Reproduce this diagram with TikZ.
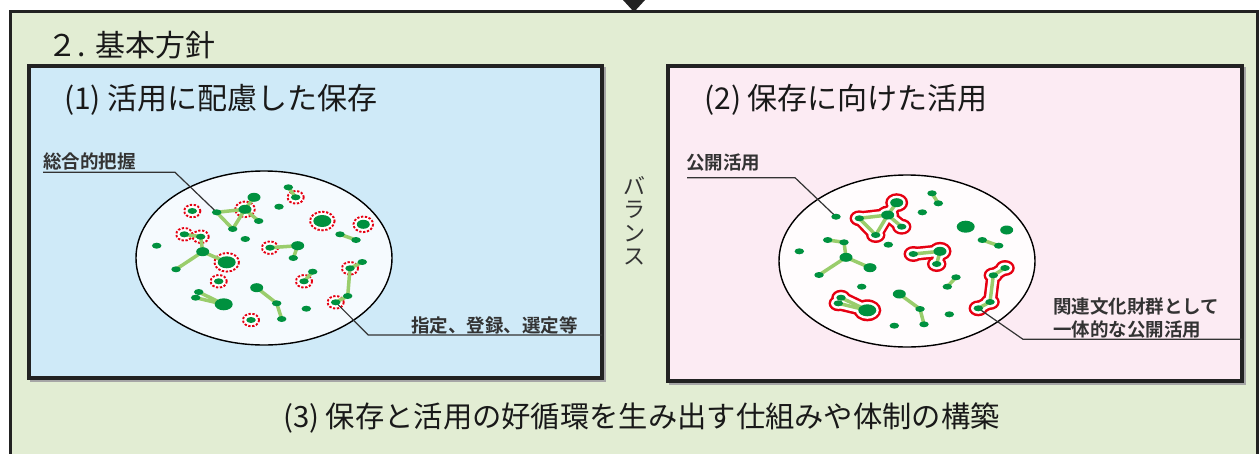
\documentclass[tikz,border=0pt]{standalone}
\usepackage{fontspec}
\newfontfamily\jp{Noto Sans CJK JP}[BoldFont={Noto Sans CJK JP Bold}]
\usetikzlibrary{shapes.geometric}
\definecolor{outerg}{HTML}{E2EDD3}
\definecolor{boxblue}{HTML}{CFEAF8}
\definecolor{boxpink}{HTML}{FCEBF3}
\definecolor{ellblue}{HTML}{F5FAFE}
\definecolor{ellpink}{HTML}{FFFCFD}
\definecolor{dgreen}{HTML}{00913F}
\definecolor{lgreen}{HTML}{9ACD6C}
\definecolor{ringred}{HTML}{E60012}
\definecolor{framec}{HTML}{222222}
\definecolor{labc}{HTML}{333333}
\pgfdeclarelayer{bg}\pgfdeclarelayer{mid}\pgfsetlayers{bg,mid,main}
\begin{document}
\begin{tikzpicture}[x=1pt,y=-1pt,
  sd/.style={ellipse, fill=dgreen, inner sep=0, minimum width=9.5, minimum height=6},
  md/.style={ellipse, fill=dgreen, inner sep=0, minimum width=13, minimum height=9},
  bd/.style={ellipse, fill=dgreen, inner sep=0, minimum width=18, minimum height=12},
  edge/.style={draw=lgreen, line width=3.5},
  ringst/.style={draw=ringred, fill=white, line width=1.9, dash pattern=on 2.3 off 1.6},
  oR/.style={draw=ringred, line width=14, line cap=round, line join=round},
  oW/.style={draw=white, line width=9, line cap=round, line join=round},
  lbl/.style={draw=labc, line width=1.2},
  title/.style={font=\jp\fontsize{30}{36}\selectfont, anchor=west, inner sep=0, text=black!90},
  lab/.style={font=\jp\bfseries\fontsize{18.5}{22}\selectfont, text=labc, anchor=west, inner sep=0},
  frm/.style={draw=framec, line width=3}
]
\useasboundingbox (0,0) rectangle (1260,453);
\begin{pgfonlayer}{bg}
\fill[white] (0,0) rectangle (1260,453);
\draw[frm, fill=outerg] (10,11) rectangle (1257,475);
\fill[framec] (623,0) -- (645,0) -- (634,12) -- cycle;
\draw[draw=gray!70, line width=3] (31,68) rectangle (604,380);
\draw[frm, fill=boxblue, line width=3.5] (29,66) rectangle (602,378);
\draw[draw=gray!70, line width=3] (670,68) rectangle (1244,383);
\draw[frm, fill=boxpink, line width=3.5] (668,66) rectangle (1242,381);
\node[ellipse, draw=black, line width=1.4, fill=ellblue, minimum width=256, minimum height=174, inner sep=0] (E1) at (264,258) {};
\node[ellipse, draw=black, line width=1.4, fill=ellpink, minimum width=256, minimum height=172, inner sep=0] (E2) at (907,261) {};
\end{pgfonlayer}

% titles
\node[title] (t0) at (47,45) {２.\hspace{10pt}基本方針};
\node[title] (t1) at (64,100) {(1) 活用に配慮した保存};
\node[title] (t2) at (704,100) {(2) 保存に向けた活用};
\node[title, font=\jp\fontsize{29.3}{36}\selectfont] (t3) at (283,418) {(3) 保存と活用の好循環を生み出す仕組みや体制の構築};
\node[align=center, inner sep=0, text=labc, font=\jp\fontsize{22}{23.5}\selectfont] (bal) at (634,221) {バ\\ラ\\ン\\ス};

% labels
\node[lab] (l1) at (43,161) {総合的把握};
\node[lab] (l2) at (411,325) {指定、登録、選定等};
\node[lab] (l3) at (686,163) {公開活用};
\node[lab, align=left] (l4) at (1053,318) {関連文化財群として\\一体的な公開活用};

% blue dots
\node[sd] (A) at (216.7,212.3) {};
\node[md] (B) at (245,209.3) {};
\node[md] (C) at (254,197.3) {};
\node[sd] (D) at (232.7,229) {};
\node[sd] (E) at (258.7,221) {};
\node[sd] (F) at (288.3,187.3) {};
\node[sd] (G) at (295.7,197.3) {};
\node[sd] (H) at (192.3,211) {};
\node[sd] (I) at (279,206.7) {};
\node[bd] (J) at (322.3,221) {};
\node[md] (K) at (363.3,224.3) {};
\node[sd] (L) at (340,234.3) {};
\node[sd] (M) at (356,240) {};
\node[sd] (N) at (184.3,234.3) {};
\node[sd] (O) at (200.7,236.7) {};
\node[md] (P) at (202.7,251.7) {};
\node[sd] (Q) at (176,269.3) {};
\node[bd] (R) at (226.7,262.3) {};
\node[sd] (S) at (156.7,245.7) {};
\node[sd] (T) at (245.3,239) {};
\node[sd] (U) at (270,247.7) {};
\node[md] (V) at (297.7,245.7) {};
\node[sd] (W) at (293.3,258) {};
\node[sd] (X) at (218.7,281.3) {};
\node[sd] (Y) at (312.7,271.7) {};
\node[sd] (Z) at (304,281.3) {};
\node[sd] (AA) at (350,268.3) {};
\node[sd] (AB) at (362.3,262) {};
\node[sd] (AC) at (347.7,296) {};
\node[sd] (AD) at (335.7,302.3) {};
\node[md] (AE) at (256.7,287.7) {};
\node[sd] (AF) at (276.7,303.3) {};
\node[sd] (AG) at (281.7,319) {};
\node[sd] (AH) at (198.7,292) {};
\node[sd] (AI) at (195.7,297.7) {};
\node[bd] (AJ) at (223.7,304.3) {};
\node[sd] (AK) at (306.3,308.7) {};
\node[sd] (AL) at (251,320) {};

% pink dots
\node[sd] (ka) at (836,216.7) {};
\node[sd] (kb) at (859.3,218.3) {};
\node[md] (kc) at (887.7,215) {};
\node[md] (kd) at (896.7,202.7) {};
\node[sd] (ke) at (901.7,226.7) {};
\node[sd] (kf) at (875.7,235) {};
\node[sd] (kg) at (932,193.3) {};
\node[sd] (kh) at (938.3,203.3) {};
\node[sd] (ki) at (922.3,212.3) {};
\node[bd] (kj) at (965.7,226.7) {};
\node[md] (kk) at (1006.7,230) {};
\node[sd] (kl) at (982.3,240) {};
\node[sd] (km) at (998.7,245.7) {};
\node[sd] (kn) at (827.7,240) {};
\node[sd] (ko) at (844,242.3) {};
\node[md] (kp) at (846,257.3) {};
\node[sd] (kq) at (819,275) {};
\node[md] (kr) at (870,267.7) {};
\node[sd] (ks) at (799.3,251.3) {};
\node[sd] (kt) at (888.3,244.7) {};
\node[sd] (ku) at (913.3,254) {};
\node[md] (kv) at (940,251.3) {};
\node[sd] (kw) at (936.7,264) {};
\node[sd] (kx) at (956,277.3) {};
\node[sd] (ky) at (947.3,286.7) {};
\node[sd] (kz) at (1005,268) {};
\node[sd] (kaa) at (993.3,275.3) {};
\node[sd] (kab) at (990,302) {};
\node[sd] (kac) at (978.3,308.3) {};
\node[sd] (kad) at (861.7,286.7) {};
\node[md] (kae) at (899.3,294) {};
\node[sd] (kaf) at (920,309) {};
\node[sd] (kag) at (924,324.3) {};
\node[sd] (kah) at (841,297.7) {};
\node[sd] (kai) at (838.3,303.3) {};
\node[bd] (kaj) at (867.3,310.3) {};
\node[sd] (kak) at (949.3,314.3) {};
\node[sd] (kal) at (894.3,325.7) {};

\coordinate (s1) at (43,172.3);
\coordinate (s2) at (175,172.3);
\coordinate (d1) at (368.3,335);
\coordinate (d2) at (602,335);
\coordinate (p1) at (687,177.7);
\coordinate (p2) at (795,177.7);
\coordinate (r1) at (1023,339.3);
\coordinate (r2) at (1242,339.3);

\begin{pgfonlayer}{mid}
% red outlines (pink panel)
\foreach \n/\a/\b in {kb/4.75/3,kc/6.5/4.5,kd/6.5/4.5,ke/4.75/3,kf/4.75/3,
  ku/4.75/3,kv/6.5/4.5,kw/4.75/3,
  kz/4.75/3,kaa/4.75/3,kab/4.75/3,kac/4.75/3,
  kah/4.75/3,kai/4.75/3,kaj/9/6}
  \fill[ringred] (\n.center) ellipse ({\a+5} and {\b+5});
\draw[oR, fill=ringred] (kb.center) -- (kc.center) -- (kf.center) -- cycle;
\draw[oR] (kc.center) -- (kd.center) (kc.center) -- (ke.center);
\draw[oR] (ku.center) -- (kv.center) -- (kw.center);
\draw[oR] (kz.center) -- (kaa.center) -- (kab.center) -- (kac.center);
\draw[oR, fill=ringred] (kah.center) -- (kaj.center) -- (kai.center) -- cycle;
\foreach \n/\a/\b in {kb/4.75/3,kc/6.5/4.5,kd/6.5/4.5,ke/4.75/3,kf/4.75/3,
  ku/4.75/3,kv/6.5/4.5,kw/4.75/3,
  kz/4.75/3,kaa/4.75/3,kab/4.75/3,kac/4.75/3,
  kah/4.75/3,kai/4.75/3,kaj/9/6}
  \fill[white] (\n.center) ellipse ({\a+2.5} and {\b+2.5});
\draw[oW, fill=white] (kb.center) -- (kc.center) -- (kf.center) -- cycle;
\draw[oW] (kc.center) -- (kd.center) (kc.center) -- (ke.center);
\draw[oW] (ku.center) -- (kv.center) -- (kw.center);
\draw[oW] (kz.center) -- (kaa.center) -- (kab.center) -- (kac.center);
\draw[oW, fill=white] (kah.center) -- (kaj.center) -- (kai.center) -- cycle;

% dashed rings (blue panel)
\foreach \n/\a/\b in {B/6.5/4.5,G/4.75/3,H/4.75/3,J/9/6,K/6.5/4.5,N/4.75/3,O/4.75/3,
  R/9/6,U/4.75/3,X/4.75/3,Z/4.75/3,AA/4.75/3,AD/4.75/3,AL/4.75/3}
  \draw[ringst] (\n.center) ellipse ({\a+3.3} and {\b+3.3});

% label leader lines
\draw[lbl] (s1) -- (s2) -- (A.center);
\draw[lbl] (AD.center) -- (d1) -- (d2);
\draw[lbl] (p1) -- (p2) -- (ka.center);
\draw[lbl] (kac.center) -- (r1) -- (r2);

% green links, blue panel
\draw[edge] (A.center) -- (B.center);
\draw[edge] (A.center) -- (D.center);
\draw[edge] (D.center) -- (B.center);
\draw[edge] (B.center) -- (C.center);
\draw[edge] (B.center) -- (E.center);
\draw[edge] (F.center) -- (G.center);
\draw[edge] (L.center) -- (M.center);
\draw[edge] (N.center) -- (O.center);
\draw[edge] (O.center) -- (P.center);
\draw[edge] (P.center) -- (Q.center);
\draw[edge] (P.center) -- (R.center);
\draw[edge] (U.center) -- (V.center);
\draw[edge] (V.center) -- (W.center);
\draw[edge] (Y.center) -- (Z.center);
\draw[edge] (AA.center) -- (AB.center);
\draw[edge] (AA.center) -- (AC.center);
\draw[edge] (AC.center) -- (AD.center);
\draw[edge] (AE.center) -- (AF.center);
\draw[edge] (AF.center) -- (AG.center);
\draw[edge] (AH.center) -- (AJ.center);
\draw[edge] (AI.center) -- (AJ.center);
% green links, pink panel
\draw[edge] (kb.center) -- (kc.center);
\draw[edge] (kc.center) -- (kd.center);
\draw[edge] (kc.center) -- (ke.center);
\draw[edge] (kb.center) -- (kf.center);
\draw[edge] (kf.center) -- (kc.center);
\draw[edge] (kg.center) -- (kh.center);
\draw[edge] (kl.center) -- (km.center);
\draw[edge] (kn.center) -- (ko.center);
\draw[edge] (ko.center) -- (kp.center);
\draw[edge] (kp.center) -- (kq.center);
\draw[edge] (kp.center) -- (kr.center);
\draw[edge] (ku.center) -- (kv.center);
\draw[edge] (kv.center) -- (kw.center);
\draw[edge] (kx.center) -- (ky.center);
\draw[edge] (kz.center) -- (kaa.center);
\draw[edge] (kaa.center) -- (kab.center);
\draw[edge] (kab.center) -- (kac.center);
\draw[edge] (kae.center) -- (kaf.center);
\draw[edge] (kaf.center) -- (kag.center);
\draw[edge] (kah.center) -- (kaj.center);
\draw[edge] (kai.center) -- (kaj.center);
\end{pgfonlayer}
\end{tikzpicture}
\end{document}
